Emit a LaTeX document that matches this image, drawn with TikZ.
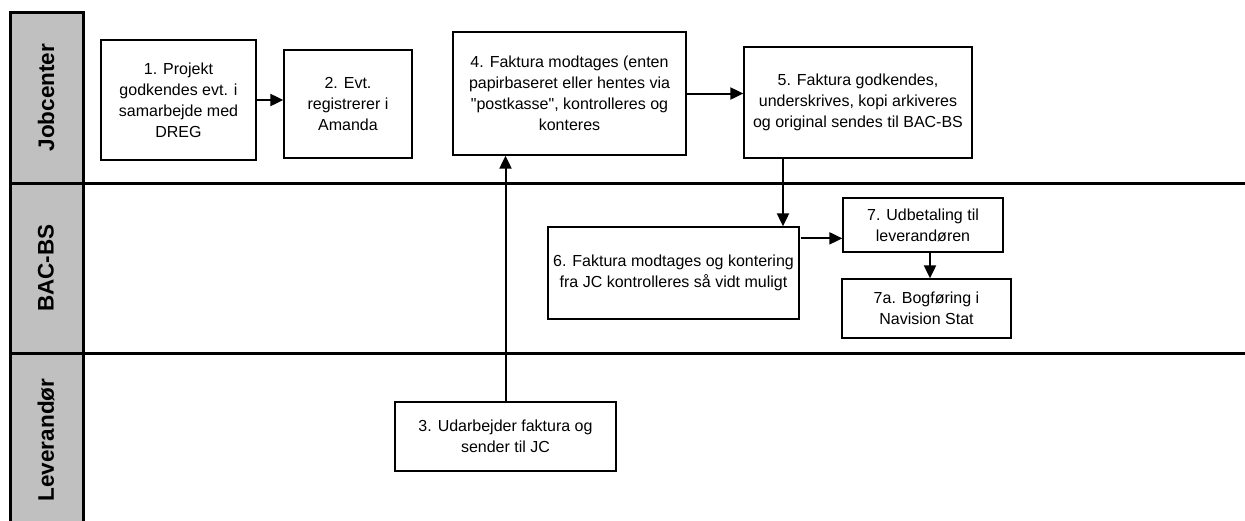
\documentclass[tikz,border=0pt]{standalone}
\usepackage{fontspec}
\setmainfont{Liberation Sans}[Ligatures=TeXOff]
\usepackage{xcolor}
\usepackage{tikz}
\usetikzlibrary{calc, positioning, arrows.meta}
\definecolor{lanegray}{RGB}{192,192,192}

\begin{document}
\begin{tikzpicture}
			[node distance=1.5cm, x=1pt, y=-1pt,
			box/.style={draw, line width=1.3pt, align=center, inner sep=0pt,
				font=\fontsize{16}{21}\selectfont},
			lanelabel/.style={rotate=90, font=\fontsize{22.5}{26}\selectfont\bfseries},
			lanerule/.style={line width=3pt},
			arr/.style={-{Triangle[length=13pt,width=12pt]}, line width=2pt}]
		\useasboundingbox (0,0) rectangle (1245,520);
		% lanes %
		\fill[lanegray] (10,12) rectangle (83,530);
		\draw[lanerule] (10,530) -- (10,12) -- (83,12) -- (83,530);
		\draw[lanerule] (10,183) -- (1245,183);
		\draw[lanerule] (10,353) -- (1245,353);
		\node[lanelabel] (jc) at (46,97.5) {Jobcenter};
		\node[lanelabel] (bac) at (46,268) {BAC-BS};
		\node[lanelabel] (lev) at (46,440) {Leverandør};

		% nodes %
		\node[box, minimum width=155pt, minimum height=120pt] (n1) at (178.5,100)
			{1. Projekt\\godkendes evt. i\\samarbejde med\\DREG};
		\node[box, minimum width=128pt, minimum height=108pt] (n2) at (348,104)
			{2. Evt.\\registrerer i\\Amanda};
		\node[box, minimum width=221pt, minimum height=69pt] (n3) at (505.5,436.5)
			{3. Udarbejder faktura og\\sender til JC};
		\node[box, minimum width=233pt, minimum height=123pt] (n4) at (569.5,93.5)
			{4. Faktura modtages (enten\\papirbaseret eller hentes via\\"postkasse", kontrolleres og\\konteres};
		\node[box, minimum width=228pt, minimum height=111pt] (n5) at (858,102.5)
			{5. Faktura godkendes,\\underskrives, kopi arkiveres\\og original sendes til BAC-BS};
		\node[box, minimum width=251pt, minimum height=92pt] (n6) at (673.5,273)
			{6. Faktura modtages og kontering\\fra JC kontrolleres så vidt muligt};
		\node[box, minimum width=160pt, minimum height=54pt] (n7) at (923,225)
			{7. Udbetaling til\\leverandøren};
		\node[box, minimum width=169pt, minimum height=59pt] (n7a) at (926.5,308.5)
			{7a. Bogføring i\\Navision Stat};

		% edges %
		\draw[arr] (n1.east) -- (n1.east -| n2.west);
		\draw[arr] (n3.north) -- (n3.north |- n4.south);
		\draw[arr] (n4.east) -- (n4.east -| n5.west);
		\draw[arr] ([xshift=-75pt]n5.south) -- ([xshift=-75pt]n5.south |- n6.north);
		\draw[arr] ([xshift=1pt,yshift=-12pt]n6.north east) -- ([yshift=-12pt]n6.north east -| n7.west);
		\draw[arr] ([xshift=7pt]n7.south) -- ([xshift=7pt]n7.south |- n7a.north);
		\end{tikzpicture}
\end{document}
